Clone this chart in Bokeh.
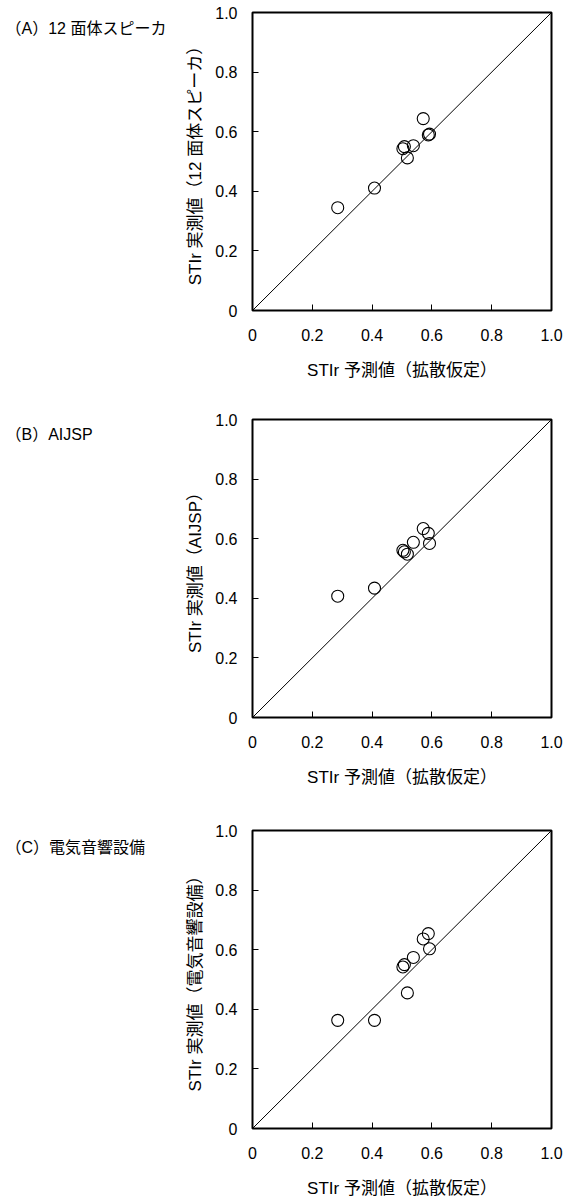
from bokeh.plotting import figure
from bokeh.models import Range1d, FixedTicker
from bokeh.layouts import column, row
from bokeh.core.properties import value
from bokeh.embed import file_html
from bokeh.resources import INLINE

# Predicted STIr (diffuse assumption) - shared x values
pred = [0.285, 0.408, 0.503, 0.508, 0.518, 0.538, 0.571, 0.588, 0.592]

# Measured STIr for each source type
meas_a = [0.345, 0.411, 0.543, 0.550, 0.512, 0.553, 0.644, 0.589, 0.592]
meas_b = [0.407, 0.434, 0.561, 0.556, 0.548, 0.588, 0.634, 0.618, 0.584]
meas_c = [0.363, 0.363, 0.542, 0.550, 0.455, 0.574, 0.636, 0.654, 0.603]

panel_titles = ["（A）12 面体スピーカ", "（B）AIJSP", "（C）電気音響設備"]
y_labels = ["STIr 実測値（12 面体スピーカ）", "STIr 実測値（AIJSP）", "STIr 実測値（電気音響設備）"]
x_label = "STIr 予測値（拡散仮定）"
tick_vals = [0, 0.2, 0.4, 0.6, 0.8, 1.0]
tick_text = ["0", "0.2", "0.4", "0.6", "0.8", "1.0"]
diag = [0, 1]

LATIN = "Liberation Sans"
CJK = "Liberation Sans, Noto Sans CJK JP"
TITLE_W = 165


def make_panel(ys, title, ylab, height, top):
    p = figure(width=572 - TITLE_W, height=height, output_backend="svg", toolbar_location=None,
               x_range=Range1d(0, 1), y_range=Range1d(0, 1),
               min_border_left=252 - TITLE_W, min_border_right=21,
               min_border_top=top, min_border_bottom=height - top - 298)
    p.grid.visible = False
    p.outline_line_color = "black"
    p.outline_line_width = 2
    labels = dict(zip(tick_vals, tick_text))
    for ax in (p.xaxis[0], p.yaxis[0]):
        ax.ticker = FixedTicker(ticks=tick_vals)
        ax.major_label_overrides = labels
        ax.axis_line_color = None
        ax.major_tick_in = 6
        ax.major_tick_out = 0
        ax.major_tick_line_color = "black"
        ax.major_tick_line_width = 1
        ax.minor_tick_line_color = None
        ax.major_label_text_font = LATIN
        ax.major_label_text_font_size = "16px"
        ax.major_label_text_color = "black"
        ax.axis_label_text_font = CJK
        ax.axis_label_text_font_size = "17px"
        ax.axis_label_text_font_style = "normal"
        ax.axis_label_text_color = "black"
    p.xaxis.axis_label = x_label
    p.yaxis.axis_label = ylab
    p.xaxis.major_label_standoff = 18
    p.xaxis.axis_label_standoff = 17
    p.yaxis.major_label_standoff = 15
    p.yaxis.axis_label_standoff = 7
    p.yaxis.major_label_orientation = "horizontal"

    p.line(diag, diag, line_color="black", line_width=1)
    p.scatter(pred, ys, size=12, marker="circle", fill_color=None,
              line_color="black", line_width=1.1)

    # blank strip on the left that carries the panel caption
    t = figure(width=TITLE_W, height=height, output_backend="svg", toolbar_location=None,
               x_range=Range1d(0, TITLE_W), y_range=Range1d(height, 0), min_border=0)
    t.axis.visible = False
    t.grid.visible = False
    t.outline_line_color = None
    t.text(x=[5], y=[top + 10], text=[title], text_font=value(CJK),
           text_font_size="16px", text_color="black",
           text_align="left", text_baseline="middle")
    return row(t, p, spacing=0)


pa = make_panel(meas_a, panel_titles[0], y_labels[0], 409, 12)
pb = make_panel(meas_b, panel_titles[1], y_labels[1], 409, 10)
pc = make_panel(meas_c, panel_titles[2], y_labels[2], 383, 12)

layout = column(pa, pb, pc, spacing=0)
open("out.html", "w").write(file_html(layout, INLINE))
